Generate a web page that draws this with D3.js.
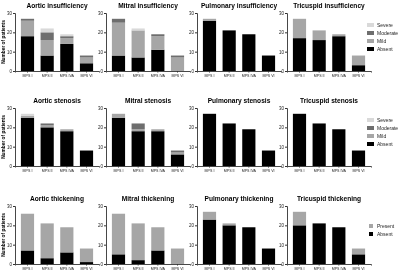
<!DOCTYPE html>
<html>
<head>
<meta charset="utf-8">
<script src="https://cdn.jsdelivr.net/npm/d3@7"></script>
<style>
  body { margin: 0; background: #fff; }
  svg { will-change: transform; }
  text { font-family: "Liberation Sans", Arial, sans-serif; }
</style>
</head>
<body>
<div id="container"></div>
<script>
// groups and stack keys
var groups = ['MPS I', 'MPS II', 'MPS IVA', 'MPS VI'];
var gradeKeys = ['Absent', 'Mild', 'Moderate', 'Severe'];
var thickKeys = ['Absent', 'Present'];
var yTicks = [0, 10, 20, 30];

// one row per group: Absent, Mild, Moderate, Severe
var aorticInsufficiency = [[18, 8, 1, 0], [8, 8, 4, 2], [14, 3, 1, 1], [4, 3, 1, 0]];
var mitralInsufficiency = [[8, 17, 2, 0], [7, 14, 0, 1], [11, 7, 1, 0], [0, 7, 1, 0]];
var pulmonaryInsufficiency = [[26, 1, 0, 0], [21, 0, 0, 0], [19, 0, 0, 0], [8, 0, 0, 0]];
var tricuspidInsufficiency = [[17, 10, 0, 0], [16, 5, 0, 0], [18, 1, 0, 0], [3, 5, 0, 0]];
var aorticStenosis = [[25, 1, 0, 1], [20, 1, 1, 0], [18, 1, 0, 0], [8, 0, 0, 0]];
var mitralStenosis = [[25, 2, 0, 0], [18, 1, 3, 0], [18, 1, 0, 0], [6, 1, 1, 0]];
var pulmonaryStenosis = [[27, 0, 0, 0], [22, 0, 0, 0], [19, 0, 0, 0], [8, 0, 0, 0]];
var tricuspidStenosis = [[27, 0, 0, 0], [22, 0, 0, 0], [19, 0, 0, 0], [8, 0, 0, 0]];
// Absent, Present
var aorticThickening = [[7, 19], [3, 18], [6, 13], [1, 7]];
var mitralThickening = [[5, 21], [2, 19], [7, 12], [0, 8]];
var pulmonaryThickening = [[23, 4], [20, 1], [19, 0], [8, 0]];
var tricuspidThickening = [[20, 7], [21, 0], [19, 0], [5, 3]];

var colors = { Absent: '#000', Mild: '#a6a6a6', Moderate: '#6e6e6e', Severe: '#d9d9d9', Present: '#a6a6a6' };

var width = 400, height = 271;
var colX = [15, 106, 197, 287];
var rowTop = [13, 108, 206];
var plotW = 84, plotH = 58;

var rows = [
  { keys: gradeKeys, panels: [
    ['Aortic insufficiency', aorticInsufficiency], ['Mitral insufficiency', mitralInsufficiency],
    ['Pulmonary insufficiency', pulmonaryInsufficiency], ['Tricuspid insufficiency', tricuspidInsufficiency]] },
  { keys: gradeKeys, panels: [
    ['Aortic stenosis', aorticStenosis], ['Mitral stenosis', mitralStenosis],
    ['Pulmonary stenosis', pulmonaryStenosis], ['Tricuspid stenosis', tricuspidStenosis]] },
  { keys: thickKeys, panels: [
    ['Aortic thickening', aorticThickening], ['Mitral thickening', mitralThickening],
    ['Pulmonary thickening', pulmonaryThickening], ['Tricuspid thickening', tricuspidThickening]] }
];

var svg = d3.select('#container').append('svg')
  .attr('width', width).attr('height', height);

var x = d3.scaleBand().domain(groups).range([0, plotW]).paddingInner(0.33).paddingOuter(0.3);
var y = d3.scaleLinear().domain([0, 30]).range([plotH, 0]);

rows.forEach(function(row, ri) {
  var stack = d3.stack().keys(row.keys.map(function(k, i) { return i; }));

  row.panels.forEach(function(p, ci) {
    var g = svg.append('g')
      .attr('transform', 'translate(' + colX[ci] + ',' + rowTop[ri] + ')');

    var series = stack(p[1]);
    g.selectAll('g.layer').data(series).enter().append('g')
      .attr('class', 'layer')
      .attr('fill', function(d) { return colors[row.keys[d.key]]; })
      .selectAll('rect').data(function(d) { return d; }).enter().append('rect')
      .attr('x', function(d, i) { return x(groups[i]); })
      .attr('width', x.bandwidth())
      .attr('y', function(d) { return y(d[1]); })
      .attr('height', function(d) { return y(d[0]) - y(d[1]); });

    var yAxis = g.append('g').call(d3.axisLeft(y).tickValues(yTicks).tickSize(2).tickPadding(1));
    var xAxis = g.append('g').attr('transform', 'translate(0,' + plotH + ')')
      .call(d3.axisBottom(x).tickSize(1.5).tickPadding(1.5));
    [yAxis, xAxis].forEach(function(a) {
      a.select('.domain').attr('stroke', '#333').attr('stroke-width', 0.9);
      a.selectAll('.tick line').attr('stroke', '#333');
      a.selectAll('text').attr('font-size', 4.5).attr('fill', '#222').style('font-family', '"Liberation Sans", Arial, sans-serif');
    });
    xAxis.selectAll('text').attr('font-size', 3.6);

    g.append('text')
      .attr('x', plotW / 2).attr('y', -5)
      .attr('text-anchor', 'middle')
      .attr('font-size', 6.6).attr('font-weight', 'bold').attr('fill', '#000')
      .text(p[0]);

    if (ci === 0) {
      g.append('text')
        .attr('transform', 'translate(-10,' + plotH / 2 + ') rotate(-90)')
        .attr('text-anchor', 'middle')
        .attr('font-size', 4.8).attr('font-weight', 'bold').attr('fill', '#000')
        .text('Number of patients');
    }
  });

  // legend, top item drawn first
  var legKeys = row.keys.slice().reverse();
  var leg = svg.append('g')
    .attr('transform', 'translate(367,' + (rowTop[ri] + (row.keys.length === 4 ? 12 : 20)) + ')');
  var item = leg.selectAll('g').data(legKeys).enter().append('g')
    .attr('transform', function(d, i) { return 'translate(0,' + i * 8 + ')'; });
  item.append('rect')
    .attr('x', function() { return row.keys.length === 4 ? 0 : 2; })
    .attr('y', -2).attr('width', row.keys.length === 4 ? 7 : 4).attr('height', 4)
    .attr('fill', function(d) { return colors[d]; });
  item.append('text')
    .attr('x', 10).attr('y', 1.8)
    .attr('font-size', 5).attr('fill', '#222')
    .text(function(d) { return d; });
});
</script>
</body>
</html>
